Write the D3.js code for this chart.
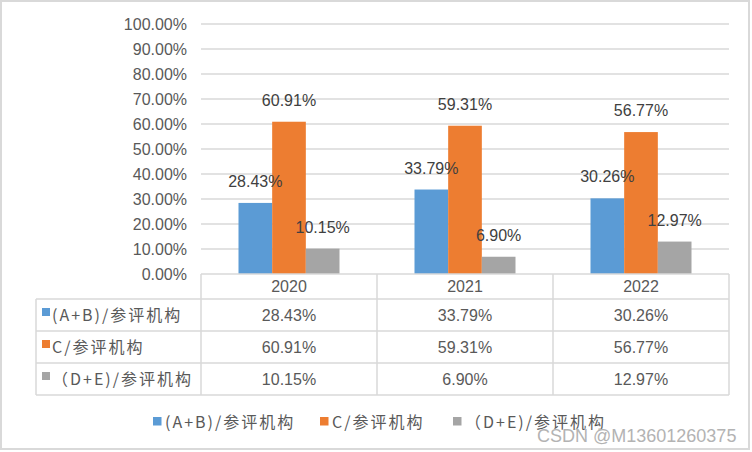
<!DOCTYPE html>
<html><head><meta charset="utf-8">
<script src="https://cdn.jsdelivr.net/npm/d3@7"></script>
<style>
html,body{margin:0;padding:0;background:#fff;}
svg{display:block;}
</style></head>
<body><svg id="chart" width="752" height="452"></svg>
<script>
const categories = ["2020", "2021", "2022"];
const seriesNames = ["(A+B)/参评机构", "C/参评机构", "（D+E)/参评机构"];
const seriesAB = [28.43, 33.79, 30.26];
const seriesC = [60.91, 59.31, 56.77];
const seriesDE = [10.15, 6.90, 12.97];
const yTicks = [0, 10, 20, 30, 40, 50, 60, 70, 80, 90, 100];
const colors = ["#5b9bd5", "#ed7d31", "#a5a5a5"];
const watermark = "CSDN @M13601260375";

const seriesValues = [seriesAB, seriesC, seriesDE];
const svg = d3.select("#chart");
const latin = "'Liberation Sans', Arial, 'Noto Sans CJK SC', sans-serif";
const cjk = "'Noto Sans CJK SC', 'Liberation Sans', sans-serif";
const textCol = "#595959";
const lineCol = "#d9d9d9";

// outer border
svg.append("rect").attr("x", 1).attr("y", 1).attr("width", 748).attr("height", 448)
  .attr("fill", "#fff").attr("stroke", lineCol).attr("stroke-width", 2);

const x0 = d3.scaleBand().domain(categories).range([201, 729]).padding(0);
const x1 = d3.scaleBand().domain(d3.range(seriesNames.length)).range([37.5, x0.bandwidth() - 37.5]).padding(0);
const y = d3.scaleLinear().domain([0, 100]).range([274, 24]);
const fmt = v => v.toFixed(2) + "%";

// gridlines
svg.append("g").selectAll("line").data(yTicks.filter(t => t > 0)).join("line")
  .attr("x1", 201).attr("x2", 729)
  .attr("y1", d => y(d)).attr("y2", d => y(d))
  .attr("stroke", lineCol).attr("stroke-width", 1.3);

// y axis labels
const yAxis = d3.axisLeft(y).tickValues(yTicks).tickFormat(d => d.toFixed(2) + "%").tickSize(0).tickPadding(0);
const yg = svg.append("g").attr("transform", "translate(187,0)").call(yAxis);
yg.select(".domain").remove();
yg.selectAll("text").attr("font-family", latin).attr("font-size", 16).attr("fill", textCol);

// bars
const groups = svg.append("g").selectAll("g").data(categories).join("g")
  .attr("transform", d => `translate(${x0(d)},0)`);
groups.selectAll("rect").data((c, ci) => seriesValues.map((s, si) => ({si, v: s[ci]}))).join("rect")
  .attr("x", d => x1(d.si)).attr("width", x1.bandwidth())
  .attr("y", d => y(d.v)).attr("height", d => y(0) - y(d.v))
  .attr("fill", d => colors[d.si]);
groups.selectAll("text").data((c, ci) => seriesValues.map((s, si) => ({si, v: s[ci]}))).join("text")
  .attr("x", d => x1(d.si) + x1.bandwidth() / 2).attr("y", d => y(d.v) - 16)
  .attr("text-anchor", "middle").attr("font-family", latin).attr("font-size", 16)
  .attr("fill", "#404040").text(d => fmt(d.v));

// data table
const rowY = d3.scaleBand().domain(d3.range(seriesNames.length)).range([299, 395]).padding(0);
const tbl = svg.append("g").attr("stroke", lineCol).attr("stroke-width", 1.5).attr("fill", "none");
tbl.append("line").attr("x1", 201).attr("x2", 729).attr("y1", y(0)).attr("y2", y(0));
[0, 1, 2, 3].forEach(i => {
  const yy = i < 3 ? rowY(i) : rowY(2) + rowY.bandwidth();
  tbl.append("line").attr("x1", 36).attr("x2", 729).attr("y1", yy).attr("y2", yy);
});
categories.forEach(c => {
  tbl.append("line").attr("x1", x0(c)).attr("x2", x0(c)).attr("y1", y(0)).attr("y2", 395);
});
tbl.append("line").attr("x1", 729).attr("x2", 729).attr("y1", y(0)).attr("y2", 395);
tbl.append("line").attr("x1", 36).attr("x2", 36).attr("y1", rowY(0)).attr("y2", 395);

// header
svg.append("g").selectAll("text").data(categories).join("text")
  .attr("x", d => x0(d) + x0.bandwidth() / 2).attr("y", 286).attr("dy", "0.35em")
  .attr("text-anchor", "middle").attr("font-family", latin).attr("font-size", 16)
  .attr("fill", textCol).text(d => d);

// rows
seriesNames.forEach((name, si) => {
  const cy = rowY(si) + rowY.bandwidth() / 2;
  svg.append("rect").attr("x", 42).attr("y", cy - 7).attr("width", 8).attr("height", 8).attr("fill", colors[si]);
  svg.append("text").attr("x", 52).attr("y", cy).attr("dy", "0.35em")
    .attr("font-family", cjk).attr("font-size", 16).attr("letter-spacing", 2)
    .attr("fill", textCol).text(name);
  svg.append("g").selectAll("text").data(categories).join("text")
    .attr("x", d => x0(d) + x0.bandwidth() / 2).attr("y", cy).attr("dy", "0.35em")
    .attr("text-anchor", "middle").attr("font-family", latin).attr("font-size", 16)
    .attr("fill", textCol).text((d, ci) => fmt(seriesValues[si][ci]));
});

// legend
const legendX = [153, 320, 453];
const lg = svg.append("g").selectAll("g").data(seriesNames).join("g")
  .attr("transform", (d, i) => `translate(${legendX[i]},422)`);
lg.append("rect").attr("x", 0).attr("y", -5).attr("width", 8.5).attr("height", 8.5).attr("fill", (d, i) => colors[i]);
lg.append("text").attr("x", 12).attr("y", 0).attr("dy", "0.35em")
  .attr("font-family", cjk).attr("font-size", 16).attr("letter-spacing", 2)
  .attr("fill", textCol).text(d => d);

// watermark
svg.append("text").attr("x", 537).attr("y", 442)
  .attr("font-family", latin).attr("font-size", 18)
  .attr("fill", "#b3b3b3").attr("stroke", "#fff").attr("stroke-width", 0.6)
  .attr("paint-order", "stroke").text(watermark);
</script></body></html>
